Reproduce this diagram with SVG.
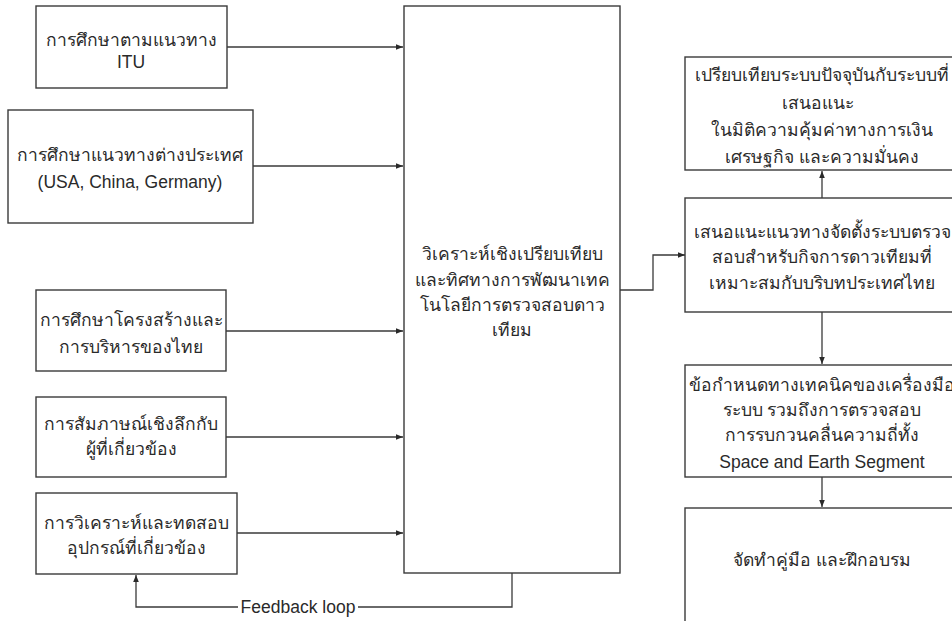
<svg xmlns="http://www.w3.org/2000/svg" width="952" height="621" viewBox="0 0 952 621">
  <style>
    .box { fill: #ffffff; stroke: #3a3a3a; stroke-width: 1.4; }
    .lbl { font-family: "Liberation Sans", "Noto Sans", "Noto Sans CJK SC", sans-serif; font-size: 17.5px; fill: #2a2a2a; text-anchor: middle; }
    .wire { fill: none; stroke: #3a3a3a; stroke-width: 1.3; }
  </style>
  <defs>
    <marker id="arr" viewBox="0 0 10 10" refX="10" refY="5" markerWidth="7" markerHeight="7" markerUnits="userSpaceOnUse" orient="auto">
      <path d="M0,1 L10,5 L0,9 Z" fill="#2a2a2a"/>
    </marker>
  </defs>
  <rect width="952" height="621" fill="#ffffff"/>

  <!-- connectors -->
  <g id="connectors">
    <path class="wire" d="M227,47 H403" marker-end="url(#arr)"/>
    <path class="wire" d="M253,166 H403" marker-end="url(#arr)"/>
    <path class="wire" d="M226,331 H403" marker-end="url(#arr)"/>
    <path class="wire" d="M226,437 H403" marker-end="url(#arr)"/>
    <path class="wire" d="M237,533 H403" marker-end="url(#arr)"/>
    <path class="wire" d="M620,290 H653 V255 H685" marker-end="url(#arr)"/>
    <path class="wire" d="M822,198 V171" marker-end="url(#arr)"/>
    <path class="wire" d="M822,312 V364" marker-end="url(#arr)"/>
    <path class="wire" d="M822,477 V507" marker-end="url(#arr)"/>
    <!-- feedback loop -->
    <path class="wire" d="M512,573 V607 H358"/>
    <path class="wire" d="M238,607 H136 V575" marker-end="url(#arr)"/>
    <text class="lbl" x="298" y="613">Feedback loop</text>
  </g>

  <g id="n-itu">
    <rect class="box" x="36" y="6" width="191" height="82"/>
    <text class="lbl" x="131" y="46">การศึกษาตามแนวทาง</text>
    <text class="lbl" x="131" y="68">ITU</text>
  </g>

  <g id="n-foreign">
    <rect class="box" x="8" y="110" width="245" height="113"/>
    <text class="lbl" x="130" y="161">การศึกษาแนวทางต่างประเทศ</text>
    <text class="lbl" x="130" y="188">(USA, China, Germany)</text>
  </g>

  <g id="n-thai">
    <rect class="box" x="36" y="290" width="190" height="81"/>
    <text class="lbl" x="131" y="326">การศึกษาโครงสร้างและ</text>
    <text class="lbl" x="131" y="353">การบริหารของไทย</text>
  </g>

  <g id="n-interview">
    <rect class="box" x="36" y="397" width="190" height="80"/>
    <text class="lbl" x="131" y="430">การสัมภาษณ์เชิงลึกกับ</text>
    <text class="lbl" x="131" y="455">ผู้ที่เกี่ยวข้อง</text>
  </g>

  <g id="n-testing">
    <rect class="box" x="36" y="493" width="201" height="81"/>
    <text class="lbl" x="136" y="529">การวิเคราะห์และทดสอบ</text>
    <text class="lbl" x="136" y="554">อุปกรณ์ที่เกี่ยวข้อง</text>
  </g>

  <g id="n-analysis">
    <rect class="box" x="404" y="6" width="216" height="567"/>
    <text class="lbl" x="512" y="260">วิเคราะห์เชิงเปรียบเทียบ</text>
    <text class="lbl" x="512" y="286">และทิศทางการพัฒนาเทค</text>
    <text class="lbl" x="512" y="311">โนโลยีการตรวจสอบดาว</text>
    <text class="lbl" x="512" y="336">เทียม</text>
  </g>

  <g id="n-compare">
    <rect class="box" x="685" y="57" width="274" height="113"/>
    <text class="lbl" x="822" y="81">เปรียบเทียบระบบปัจจุบันกับระบบที่</text>
    <text class="lbl" x="818" y="109">เสนอแนะ</text>
    <text class="lbl" x="822" y="136">ในมิติความคุ้มค่าทางการเงิน</text>
    <text class="lbl" x="822" y="163">เศรษฐกิจ และความมั่นคง</text>
  </g>

  <g id="n-propose">
    <rect class="box" x="685" y="198" width="274" height="114"/>
    <text class="lbl" x="822" y="238">เสนอแนะแนวทางจัดตั้งระบบตรวจ</text>
    <text class="lbl" x="822" y="263">สอบสำหรับกิจการดาวเทียมที่</text>
    <text class="lbl" x="822" y="289">เหมาะสมกับบริบทประเทศไทย</text>
  </g>

  <g id="n-spec">
    <rect class="box" x="685" y="365" width="274" height="112"/>
    <text class="lbl" x="822" y="391">ข้อกำหนดทางเทคนิคของเครื่องมือ</text>
    <text class="lbl" x="822" y="416">ระบบ รวมถึงการตรวจสอบ</text>
    <text class="lbl" x="822" y="441">การรบกวนคลื่นความถี่ทั้ง</text>
    <text class="lbl" x="822" y="468">Space and Earth Segment</text>
  </g>

  <g id="n-manual">
    <rect class="box" x="685" y="508" width="274" height="130"/>
    <text class="lbl" x="822" y="566">จัดทำคู่มือ และฝึกอบรม</text>
  </g>
</svg>
